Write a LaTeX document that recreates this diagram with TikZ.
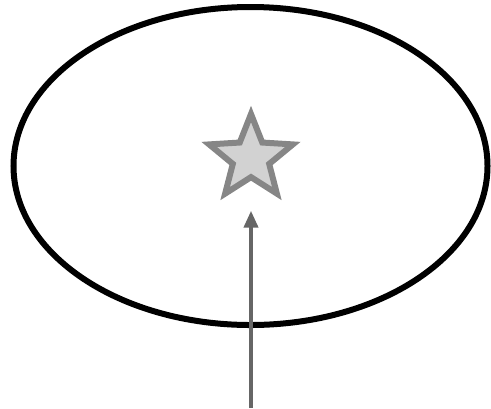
\documentclass[tikz,border=0pt]{standalone}
\usetikzlibrary{arrows.meta, positioning, shapes.geometric}

\begin{document}
\begin{tikzpicture}[
    x=0.5pt, y=-0.5pt,
    >=Triangle,
    region/.style={draw, ellipse, line width=3pt, inner sep=0pt,
                   minimum width=237pt, minimum height=159pt},
    goal/.style={draw=gray!95, fill=gray!35, star, star points=5,
                 star point ratio=2.3, line width=3pt, inner sep=0pt,
                 minimum size=44pt},
    push/.style={->, draw=black!60, line width=2pt,
                 -{Triangle[length=8.5pt, width=7pt]}}
  ]
  \useasboundingbox (0,0) rectangle (491,408);
  % the area and the target inside it
  \node[region] (area) at (250.5,166) {};
  \node[goal] (target) at (251,158) {};
  % the push coming from below
  \coordinate (src) at (251,408);
  \draw[push, shorten >=15pt] (src) -- (target.south);
\end{tikzpicture}
\end{document}
